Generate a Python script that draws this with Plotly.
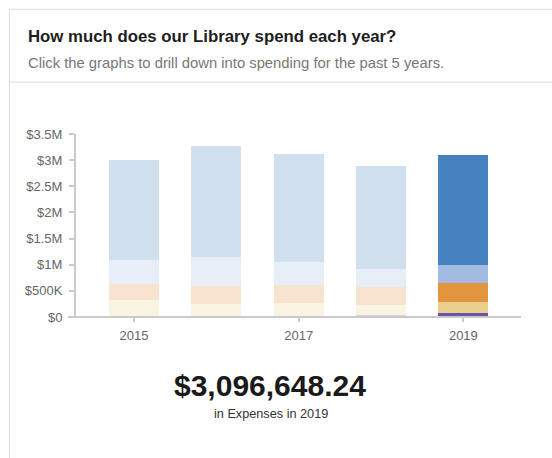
import plotly.graph_objects as go

# Yearly library expenses, stacked by expense group (US dollars)
years = [2015, 2016, 2017, 2018, 2019]
group_1 = [0, 0, 0, 30000, 80000]
group_2 = [320000, 250000, 270000, 200000, 210000]
group_3 = [320000, 340000, 340000, 340000, 360000]
group_4 = [450000, 555000, 440000, 345000, 340000]
group_5 = [1920000, 2120000, 2060000, 1965000, 2106648.24]

group_names = ["Group 1", "Group 2", "Group 3", "Group 4", "Group 5"]
group_colors = ["#6b55a9", "#e8cf8d", "#e3953d", "#a3bbe3", "#4682c0"]

y_tick_vals = [0, 500000, 1000000, 1500000, 2000000, 2500000, 3000000, 3500000]
y_tick_text = ["$0", "$500K", "$1M", "$1.5M", "$2M", "$2.5M", "$3M", "$3.5M"]
x_tick_vals = [2015, 2017, 2019]

selected_year = 2019
FONT = "Liberation Sans, Arial, Helvetica, sans-serif"

W, H = 552, 458
PLOT_L, PLOT_R, PLOT_T, PLOT_B = 76, 521, 133.5, 317


def px_x(px):
    return (px - PLOT_L) / (PLOT_R - PLOT_L)


def px_y(py):
    return (PLOT_B - py) / (PLOT_B - PLOT_T)


def fade(hex_color, alpha=0.25):
    h = hex_color.lstrip("#")
    rgb = [int(h[i:i + 2], 16) for i in (0, 2, 4)]
    out = [round(255 - alpha * (255 - c)) for c in rgb]
    return "#%02x%02x%02x" % tuple(out)


series = [group_1, group_2, group_3, group_4, group_5]

fig = go.Figure()
for name, vals, col in zip(group_names, series, group_colors):
    colors = [col if y == selected_year else fade(col) for y in years]
    fig.add_trace(go.Bar(
        x=years, y=vals, name=name,
        marker=dict(color=colors, line=dict(width=0)),
        showlegend=False,
        hovertemplate="%{x}: $%{y:,.2f}<extra>" + name + "</extra>",
    ))

sel_idx = years.index(selected_year)
total = sum(s[sel_idx] for s in series)

# x range so that bar centres land on the year ticks
x0 = 2015 - 0.7047
x1 = 2019 + 0.70

fig.update_layout(
    width=W, height=H,
    margin=dict(l=PLOT_L, r=W - PLOT_R, t=PLOT_T, b=H - PLOT_B, pad=0),
    paper_bgcolor="white", plot_bgcolor="white",
    barmode="stack", bargap=0.392,
    font=dict(family=FONT, color="#666", size=13),
    xaxis=dict(
        range=[x0, x1], tickvals=x_tick_vals, ticktext=[str(v) for v in x_tick_vals],
        ticks="outside", ticklen=4, tickwidth=1.5, tickcolor="#c8cace",
        ticklabelstandoff=2,
        showline=False, showgrid=False, zeroline=False,
        tickfont=dict(size=13, color="#666"), fixedrange=True,
    ),
    yaxis=dict(
        range=[0, 3500000], tickvals=y_tick_vals, ticktext=y_tick_text,
        ticks="outside", ticklen=5, tickwidth=1.5, tickcolor="#c8cace",
        ticklabelstandoff=4,
        showline=True, linewidth=2, linecolor="#c8cace",
        showgrid=False, zeroline=False,
        tickfont=dict(size=13, color="#666"), fixedrange=True,
    ),
    shapes=[
        # x-axis baseline (extends slightly left of the y-axis)
        dict(type="line", xref="paper", yref="paper",
             x0=px_x(68), x1=1, y0=0, y1=0,
             line=dict(color="#c8cace", width=2), layer="above"),
        # card border: left edge, top edge and header divider
        dict(type="line", xref="paper", yref="paper",
             x0=px_x(9.5), x1=px_x(9.5), y0=px_y(8), y1=px_y(470),
             line=dict(color="#dcdcdc", width=1)),
        dict(type="line", xref="paper", yref="paper",
             x0=px_x(9), x1=px_x(560), y0=px_y(8.5), y1=px_y(8.5),
             line=dict(color="#dcdcdc", width=1)),
        dict(type="line", xref="paper", yref="paper",
             x0=px_x(9), x1=px_x(560), y0=px_y(81.5), y1=px_y(81.5),
             line=dict(color="#dcdcdc", width=1)),
    ],
    annotations=[
        dict(text="<b>How much does our Library spend each year?</b>",
             xref="paper", yref="paper", x=px_x(25.5), y=px_y(36),
             xanchor="left", yanchor="middle", showarrow=False,
             font=dict(family=FONT, size=16.8, color="#1e1e1e")),
        dict(text="Click the graphs to drill down into spending for the past 5 years.",
             xref="paper", yref="paper", x=px_x(25.5), y=px_y(62),
             xanchor="left", yanchor="middle", showarrow=False,
             font=dict(family=FONT, size=14.8, color="#777")),
        dict(text="<b>${:,.2f}</b>".format(total),
             xref="paper", yref="paper", x=px_x(270), y=px_y(386),
             xanchor="center", yanchor="middle", showarrow=False,
             font=dict(family=FONT, size=30, color="#1a1a1a")),
        dict(text="in Expenses in {}".format(selected_year),
             xref="paper", yref="paper", x=px_x(270.5), y=px_y(414.5),
             xanchor="center", yanchor="middle", showarrow=False,
             font=dict(family=FONT, size=12.7, color="#333")),
    ],
)

fig.write_html("out.html", config={"displayModeBar": False})
